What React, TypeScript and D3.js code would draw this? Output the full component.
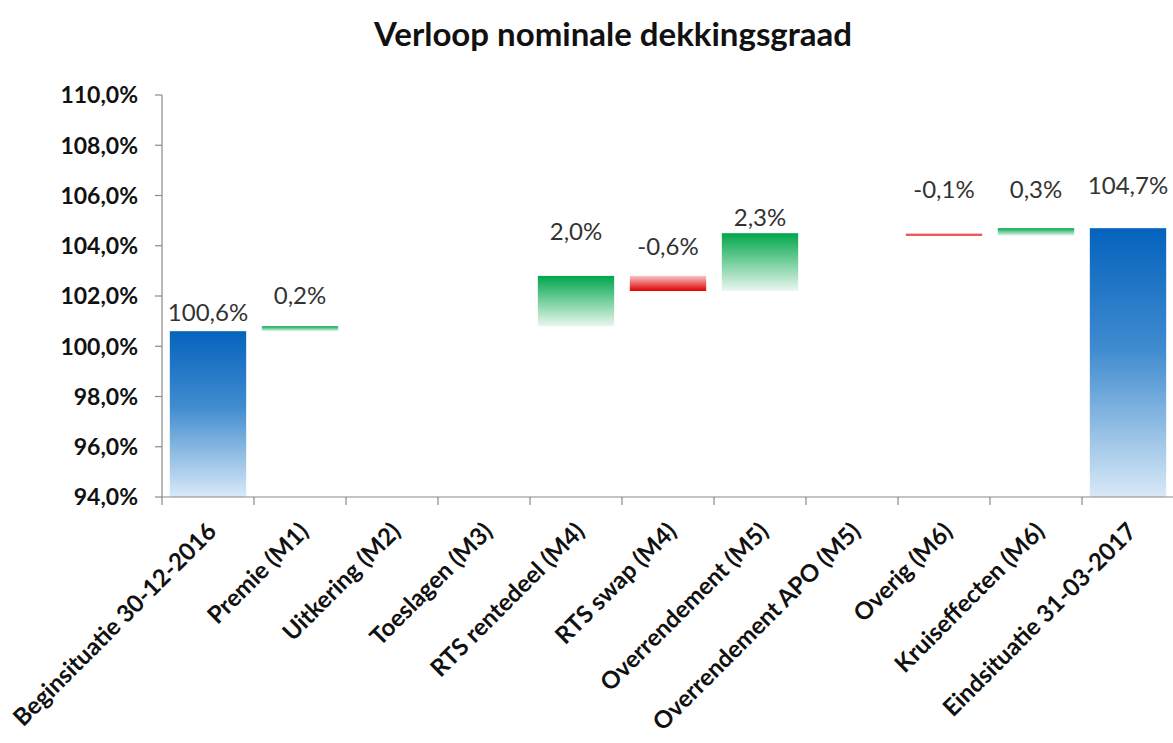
import React from 'react';
import * as d3 from 'd3';

// categorieën en mutaties (in %-punt)
const categories = [
  'Beginsituatie 30-12-2016',
  'Premie (M1)',
  'Uitkering (M2)',
  'Toeslagen (M3)',
  'RTS rentedeel (M4)',
  'RTS swap (M4)',
  'Overrendement (M5)',
  'Overrendement APO (M5)',
  'Overig (M6)',
  'Kruiseffecten (M6)',
  'Eindsituatie 31-03-2017',
];
const startValue = 100.6;
const changes = [0.2, 0, 0, 2.0, -0.6, 2.3, 0, -0.1, 0.3];
const endValue = 104.7;
const yTicks = [94, 96, 98, 100, 102, 104, 106, 108, 110];

// extra ruimte boven de balk voor elk label (px), zoals handmatig geplaatst in het origineel
const labelLift = [10, 22, 0, 0, 36, 21, 7, 0, 35, 30, 34];

const W = 1173;
const H = 743;
const margin = { top: 95, right: 0, bottom: 246, left: 162 };

const fmt = (v: number) => v.toFixed(1).replace('.', ',') + '%';

type Bar = { cat: string; lo: number; hi: number; kind: 'total' | 'up' | 'down'; label: string | null };

function buildBars(): Bar[] {
  const bars: Bar[] = [];
  bars.push({ cat: categories[0], lo: 94, hi: startValue, kind: 'total', label: fmt(startValue) });
  let run = startValue;
  changes.forEach((c, i) => {
    const next = run + c;
    bars.push({
      cat: categories[i + 1],
      lo: Math.min(run, next),
      hi: Math.max(run, next),
      kind: c >= 0 ? 'up' : 'down',
      label: c === 0 ? null : fmt(c),
    });
    run = next;
  });
  bars.push({ cat: categories[categories.length - 1], lo: 94, hi: endValue, kind: 'total', label: fmt(endValue) });
  return bars;
}

export default function App() {
  const bars = buildBars();
  const x = d3.scaleBand<string>().domain(categories).range([margin.left, W + 1]).padding(0);
  const y = d3.scaleLinear().domain([94, 110]).range([H - margin.bottom, margin.top]);
  const step = x.step();
  const barW = step * 0.83;
  const axisCol = '#8a8a8a';
  const font = 'Lato, "Open Sans", sans-serif';

  return (
    <svg width={W} height={H} style={{ position: 'absolute', left: 0, top: 0, background: '#fff' }}>
      <defs>
        <linearGradient id="gBlue" x1="0" y1="0" x2="0" y2="1">
          <stop offset="0" stopColor="#0563bd" />
          <stop offset="0.45" stopColor="#3f8bcf" />
          <stop offset="1" stopColor="#d9e9f7" />
        </linearGradient>
        <linearGradient id="gGreen" x1="0" y1="0" x2="0" y2="1">
          <stop offset="0" stopColor="#00a74c" />
          <stop offset="1" stopColor="#eaf7ef" />
        </linearGradient>
        <linearGradient id="gRed" x1="0" y1="0" x2="0" y2="1">
          <stop offset="0" stopColor="#f8c4c4" />
          <stop offset="1" stopColor="#de0000" />
        </linearGradient>
      </defs>

      <text x={613} y={46} textAnchor="middle" fontFamily={font} fontWeight="bold" fontSize={33} fill="#111">
        Verloop nominale dekkingsgraad
      </text>

      {/* balken */}
      {bars.map((b, i) => {
        const bx = (x(b.cat) as number) + (step - barW) / 2;
        const top = y(b.hi);
        const h = Math.max(y(b.lo) - y(b.hi), 0);
        const fill = b.kind === 'total' ? 'url(#gBlue)' : b.kind === 'up' ? 'url(#gGreen)' : 'url(#gRed)';
        return (
          <g key={b.cat}>
            {h > 0 && <rect x={bx} y={top} width={barW} height={h} fill={fill} />}
            {b.label && (
              <text
                x={bx + barW / 2}
                y={top - labelLift[i]}
                textAnchor="middle"
                fontFamily={font}
                fontSize={24}
                fill="#333"
              >
                {b.label}
              </text>
            )}
          </g>
        );
      })}

      {/* y-as */}
      <line x1={margin.left} x2={margin.left} y1={y(110)} y2={y(94)} stroke={axisCol} strokeWidth={1.2} />
      {yTicks.map((t) => (
        <g key={t}>
          <line x1={margin.left - 7} x2={margin.left} y1={y(t)} y2={y(t)} stroke={axisCol} strokeWidth={1.2} />
          <text
            x={margin.left - 24}
            y={y(t)}
            dy="0.36em"
            textAnchor="end"
            fontFamily={font}
            fontWeight="bold"
            fontSize={23}
            fill="#111"
          >
            {fmt(t)}
          </text>
        </g>
      ))}

      {/* x-as */}
      <line x1={margin.left} x2={W} y1={y(94)} y2={y(94)} stroke={axisCol} strokeWidth={1.2} />
      {categories.map((c) => (
        <line key={'t' + c} x1={x(c)} x2={x(c)} y1={y(94)} y2={y(94) + 8} stroke={axisCol} strokeWidth={1.2} />
      ))}
      {categories.map((c) => {
        const cx = (x(c) as number) + step / 2 - 2;
        const cy = y(94) + 24;
        return (
          <text
            key={'l' + c}
            transform={`translate(${cx},${cy}) rotate(-45)`}
            textAnchor="end"
            dy="0.7em"
            fontFamily={font}
            fontWeight="bold"
            fontSize={24}
            fill="#111"
          >
            {c}
          </text>
        );
      })}
    </svg>
  );
}
